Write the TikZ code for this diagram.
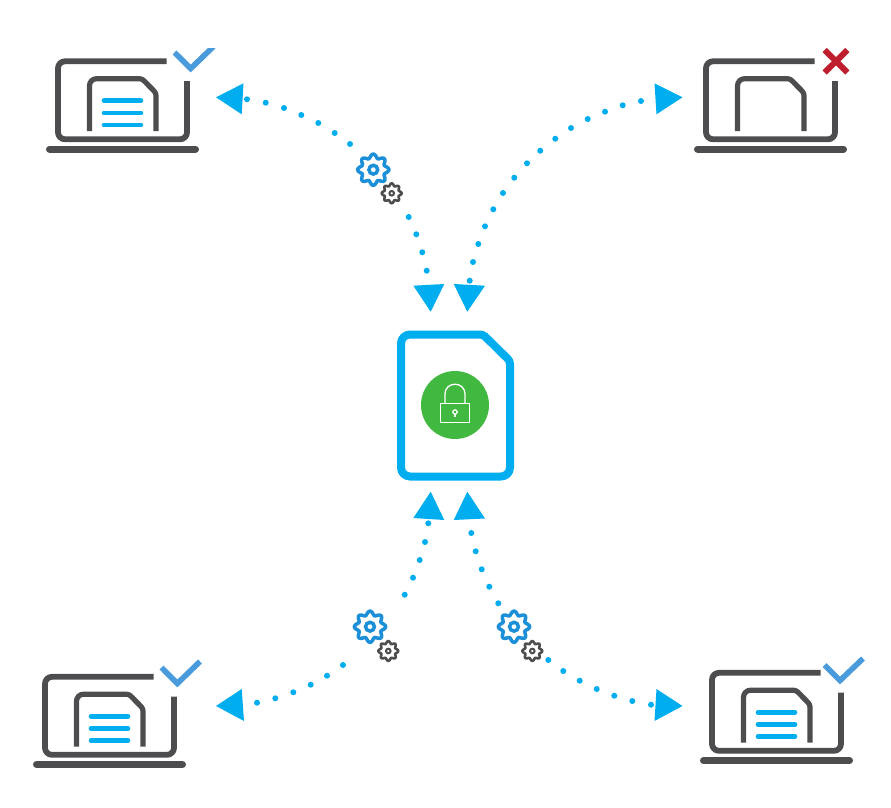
\documentclass[tikz,border=0pt]{standalone}
\definecolor{cyanblue}{HTML}{00AEEF}
\definecolor{darkgrey}{HTML}{4D4D4F}
\definecolor{checkblue}{HTML}{4A9BDC}
\definecolor{gearblue}{HTML}{1B8FD8}
\definecolor{crossred}{HTML}{BE1E2D}
\definecolor{lockgreen}{HTML}{41B83F}
\tikzset{
  laptopline/.style={draw=darkgrey,line width=5.8pt,line join=round},
  simline/.style={draw=darkgrey,line width=5.2pt,line join=round},
  baseline/.style={draw=darkgrey,line width=7pt,line cap=round},
  textline/.style={draw=cyanblue,line width=4.6pt,line cap=round},
  checkline/.style={draw=checkblue,line width=5.6pt,line join=miter},
  crossline/.style={draw=crossred,line width=6pt},
  flowdot/.style={fill=cyanblue,draw=none},
  flowtip/.style={fill=cyanblue,draw=none},
  pics/laptop/.style={code={
    \draw[laptopline,rounded corners=7pt] (166.7,61.3) -- (58,61.3) -- (58,139.3) -- (187,139.3) -- (187,81);
    \draw[baseline] (49.5,149) -- (195.5,149);
    \draw[simline] (89.5,131) [rounded corners=7pt] -- (89.5,78.7) [rounded corners=2.5pt] -- (142,78.7) -- (156,93) -- (156,131);
  }},
  pics/textlines/.style={code={
    \draw[textline] (104,100.7) -- (141,100.7);
    \draw[textline] (104,113) -- (141,113);
    \draw[textline] (104,125) -- (141,125);
  }},
  pics/biggear/.style={code={
    \draw[gearblue,line width=3.5pt] plot[domain=0:360,samples=145,smooth] ({(13.7+1.9*cos(8*\x))*cos(\x)},{(13.7+1.9*cos(8*\x))*sin(\x)}) -- cycle;
    \draw[gearblue,line width=3.5pt] (0,0) circle[radius=4.4pt];
  }},
  pics/smallgear/.style={code={
    \draw[darkgrey,line width=2.6pt] plot[domain=0:360,samples=145,smooth] ({(8.7+1.2*cos(8*\x))*cos(\x)},{(8.7+1.2*cos(8*\x))*sin(\x)}) -- cycle;
    \draw[darkgrey,line width=2pt] (0,0) circle[radius=2.3pt];
  }},
}
\begin{document}
\begin{tikzpicture}[x=1pt,y=-1pt]
\useasboundingbox (0,0) rectangle (891,808);
% laptops
\pic (lapTL) at (0,0) {laptop};
\pic (txtTL) at (0,0) {textlines};
\pic (lapTR) at (648,0) {laptop};
\pic (lapBL) at (-13,615.5) {laptop};
\pic (txtBL) at (-13,615.5) {textlines};
\pic (lapBR) at (654,611.5) {laptop};
\pic (txtBR) at (654,611.5) {textlines};
% status marks
\begin{scope}
  \clip (160,49) rectangle (225,85);
  \draw[checkline] (174.5,52.5) -- (190.7,68.5) -- (213.5,46.5);
\end{scope}
\draw[crossline] (824.7,50) -- (847.3,72.5);
\draw[crossline] (847.3,50) -- (824.7,72.5);
\draw[checkline] (161.5,667.5) -- (177.3,683.5) -- (200,661.5);
\draw[checkline] (824.5,665) -- (840,680.5) -- (863,658.5);
% central document
\draw[draw=cyanblue,line width=8pt,line join=round]
  (401,405) [rounded corners=9pt] -- (401,334.5) [rounded corners=3pt] -- (483,334.5) -- (510,361) [rounded corners=9pt] -- (510,476.5) -- (401,476.5) -- cycle;
\fill[lockgreen] (455,405) circle[radius=34pt];
\draw[white,line width=1.3pt] (440.3,403.7) rectangle (469.7,422.3);
\draw[white,line width=1.3pt,rounded corners=9.5pt] (445,403.7) -- (445,384.3) -- (465,384.3) -- (465,403.7);
\draw[white,line width=1.2pt] (455,412) circle[radius=2.2pt];
\draw[white,line width=1.2pt] (455,414) -- (455,417);
% arrow tips
\fill[flowtip] (216,97.3) -- (243.5,83.3) -- (241.7,114.3) -- cycle;
\fill[flowtip] (682.5,97.3) -- (654.5,83.3) -- (656.5,114.3) -- cycle;
\fill[flowtip] (216,706) -- (241.7,689) -- (244,721) -- cycle;
\fill[flowtip] (682.5,706) -- (656.5,689) -- (654.5,721) -- cycle;
\fill[flowtip] (413.3,285.7) -- (444.3,284) -- (430.7,311.7) -- cycle;
\fill[flowtip] (453.7,284) -- (485,285.7) -- (467.3,311.7) -- cycle;
\fill[flowtip] (430.7,491.7) -- (413.3,518) -- (444.3,520) -- cycle;
\fill[flowtip] (467.3,491.7) -- (453.7,520) -- (485,518.5) -- cycle;
% dotted connectors
\foreach \p in {(247,99.3),(265.7,102.7),(284,108),(301.3,115),(318.3,123),(334.7,133),(350,144),
  (408.7,217),(416.3,234.3),(422.3,252.3),(426.7,270.7),
  (641,101),(622.7,105.3),(605,111.7),(587.7,119),(571,128),(555.3,138.7),(540.3,150.7),(527,163.3),
  (514.3,177.7),(503,193),(493.3,209.3),(485,226.3),(478.3,244),(473,262),(469.7,280.7),
  (428.3,523.3),(425,542),(419.7,560),(413,577.7),(404.7,594.7),
  (343,665),(327,675.7),(310.7,684.7),(293.3,692.3),(275.3,698.3),(257,702.7),
  (471.3,533),(475.7,551.3),(481.7,569.3),(489.3,586.7),(498.3,603.3),
  (548.3,660),(563.3,671),(579.7,680.7),(596.7,689),(614.3,695.7),(632.3,701),(651,704.7)}
  \fill[flowdot] \p circle[radius=3pt];
% gears
\pic (gearA) at (373.3,169.7) {biggear};
\pic (cogA) at (391.7,193.3) {smallgear};
\pic (gearB) at (370,626.7) {biggear};
\pic (cogB) at (388.3,651) {smallgear};
\pic (gearC) at (514,626.7) {biggear};
\pic (cogC) at (532.3,651) {smallgear};
\end{tikzpicture}
\end{document}
